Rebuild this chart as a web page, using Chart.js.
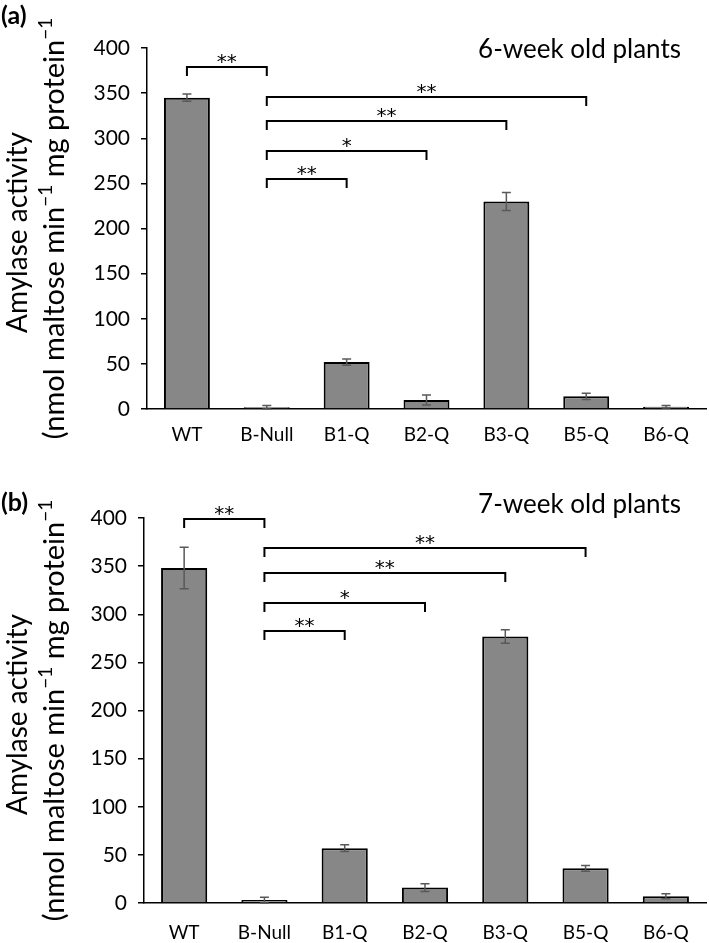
<!DOCTYPE html>
<html>
<head>
<meta charset="utf-8">
<script src="https://cdn.jsdelivr.net/npm/chart.js@4.4.1/dist/chart.umd.min.js"></script>
<style>
  body { margin: 0; background: #fff; }
  .panel { position: absolute; left: 0; width: 709px; }
  #wrapA { top: 0; height: 462px; }
  #wrapB { top: 462px; height: 481px; }
</style>
</head>
<body>
<div class="panel" id="wrapA"><canvas id="chartA"></canvas></div>
<div class="panel" id="wrapB"><canvas id="chartB"></canvas></div>
<script>
// Dados
const categories = ['WT', 'B-Null', 'B1-Q', 'B2-Q', 'B3-Q', 'B5-Q', 'B6-Q'];
const week6 = [345, 2, 52, 10, 230, 14, 2.5];
const week6Err = [4, 2, 3.5, 5.5, 10, 3.5, 1.5];
const week7 = [348, 3, 57, 16, 277, 36, 7];
const week7Err = [21.5, 3, 3.5, 4, 7, 3, 2.5];
const yTicks = [0, 50, 100, 150, 200, 250, 300, 350, 400];

// brackets: [from, to, label, level]
const week6Brackets = [[0, 1, '**', 379], [1, 5, '**', 346], [1, 4, '**', 319], [1, 3, '*', 286], [1, 2, '**', 255]];
const week7Brackets = [[0, 1, '**', 399], [1, 5, '**', 369], [1, 4, '**', 343], [1, 3, '*', 312], [1, 2, '**', 283]];

// título do eixo Y (segunda linha com sobrescritos)
const yTitle1 = 'Amylase activity';
const yTitle2 = [['(nmol maltose min', false], ['\u22121', true], [' mg protein', false], ['\u22121', true]];

const FONT = 'Lato, "Open Sans", sans-serif';

// Plugin para barras de erro, colchetes e textos do painel
const extras = {
  id: 'extras',
  afterDatasetsDraw(chart, args, opts) {
    const { ctx, chartArea, scales: { x, y } } = chart;
    ctx.save();

    // barras de erro
    ctx.strokeStyle = '#595959';
    ctx.lineWidth = 1.5;
    opts.values.forEach((v, i) => {
      const px = x.getPixelForValue(i);
      const t = y.getPixelForValue(v + opts.errors[i]);
      const b = y.getPixelForValue(v - opts.errors[i]);
      ctx.beginPath();
      ctx.moveTo(px, t); ctx.lineTo(px, b);
      ctx.moveTo(px - 4.5, t); ctx.lineTo(px + 4.5, t);
      ctx.moveTo(px - 4.5, b); ctx.lineTo(px + 4.5, b);
      ctx.stroke();
    });

    // colchetes de significância
    ctx.strokeStyle = '#000';
    ctx.fillStyle = '#000';
    ctx.lineWidth = 2;
    ctx.font = '20px "DejaVu Sans", sans-serif';
    ctx.textAlign = 'center';
    ctx.textBaseline = 'alphabetic';
    opts.brackets.forEach(([a, b, label, level]) => {
      const x1 = x.getPixelForValue(a);
      const x2 = x.getPixelForValue(b);
      const py = Math.round(y.getPixelForValue(level));
      ctx.beginPath();
      ctx.moveTo(x1, py + 9); ctx.lineTo(x1, py); ctx.lineTo(x2, py); ctx.lineTo(x2, py + 9);
      ctx.stroke();
      ctx.fillText(label, (x1 + x2) / 2, py + 1);
    });

    // título do eixo Y, girado
    const cy = (chartArea.top + chartArea.bottom) / 2;
    const mainFont = '29px ' + FONT;
    const supFont = '19px ' + FONT;
    ctx.save();
    ctx.translate(18, cy + 4);
    ctx.rotate(-Math.PI / 2);
    ctx.textAlign = 'center';
    ctx.textBaseline = 'middle';
    ctx.font = '28px ' + FONT;
    ctx.fillText(yTitle1, 0, 0);
    ctx.restore();

    let total = 0;
    yTitle2.forEach(([t, sup]) => { ctx.font = sup ? supFont : mainFont; total += ctx.measureText(t).width; });
    ctx.save();
    ctx.translate(55, cy);
    ctx.rotate(-Math.PI / 2);
    ctx.textAlign = 'left';
    ctx.textBaseline = 'middle';
    let pos = -total / 2;
    yTitle2.forEach(([t, sup]) => {
      ctx.font = sup ? supFont : mainFont;
      ctx.fillText(t, pos, sup ? -9 : 0);
      pos += ctx.measureText(t).width;
    });
    ctx.restore();

    // título interno e rótulo do painel
    ctx.font = '26px ' + FONT;
    ctx.textAlign = 'right';
    ctx.textBaseline = 'middle';
    ctx.fillText(opts.title, 681, opts.titleY);
    ctx.font = 'bold 25px ' + FONT;
    ctx.textAlign = 'left';
    ctx.fillText(opts.tag, 1, opts.tagY);
    ctx.restore();
  }
};

function makeChart(id, values, errors, brackets, cfg) {
  const ctx = document.getElementById(id).getContext('2d');
  return new Chart(ctx, {
    type: 'bar',
    data: {
      labels: categories,
      datasets: [{
        data: values,
        backgroundColor: '#878787',
        borderColor: '#000',
        borderWidth: 2,
        categoryPercentage: 1,
        barPercentage: 0.575
      }]
    },
    options: {
      responsive: true,
      maintainAspectRatio: false,
      animation: false,
      layout: { padding: { top: cfg.top, right: 3, left: 0, bottom: 0 } },
      plugins: {
        legend: { display: false },
        tooltip: { enabled: false },
        extras: { values, errors, brackets, title: cfg.title, titleY: cfg.titleY, tag: cfg.tag, tagY: cfg.tagY }
      },
      scales: {
        x: {
          grid: { display: false, drawTicks: false },
          border: { display: true, color: '#000', width: 1.5 },
          ticks: { color: '#000', font: { family: FONT, size: 19 }, padding: cfg.xPad, maxRotation: 0 },
          afterFit: (s) => { s.height = cfg.xHeight; }
        },
        y: {
          min: 0,
          max: 400,
          afterBuildTicks: (s) => { s.ticks = yTicks.map(v => ({ value: v })); },
          grid: { drawOnChartArea: false, drawTicks: true, tickLength: 6, color: '#000', lineWidth: 1.5 },
          border: { display: true, color: '#000', width: 1.5 },
          ticks: { color: '#000', font: { family: FONT, size: 21 }, padding: 11 },
          afterFit: (s) => { s.width = cfg.left; }
        }
      }
    },
    plugins: [extras]
  });
}

makeChart('chartA', week6, week6Err, week6Brackets,
  { top: 48, left: 147, xHeight: 53, xPad: 14, title: '6-week old plants', titleY: 50, tag: '(a)', tagY: 16 });
makeChart('chartB', week7, week7Err, week7Brackets,
  { top: 56, left: 144, xHeight: 40, xPad: 18, title: '7-week old plants', titleY: 43, tag: '(b)', tagY: 41 });
</script>
</body>
</html>
